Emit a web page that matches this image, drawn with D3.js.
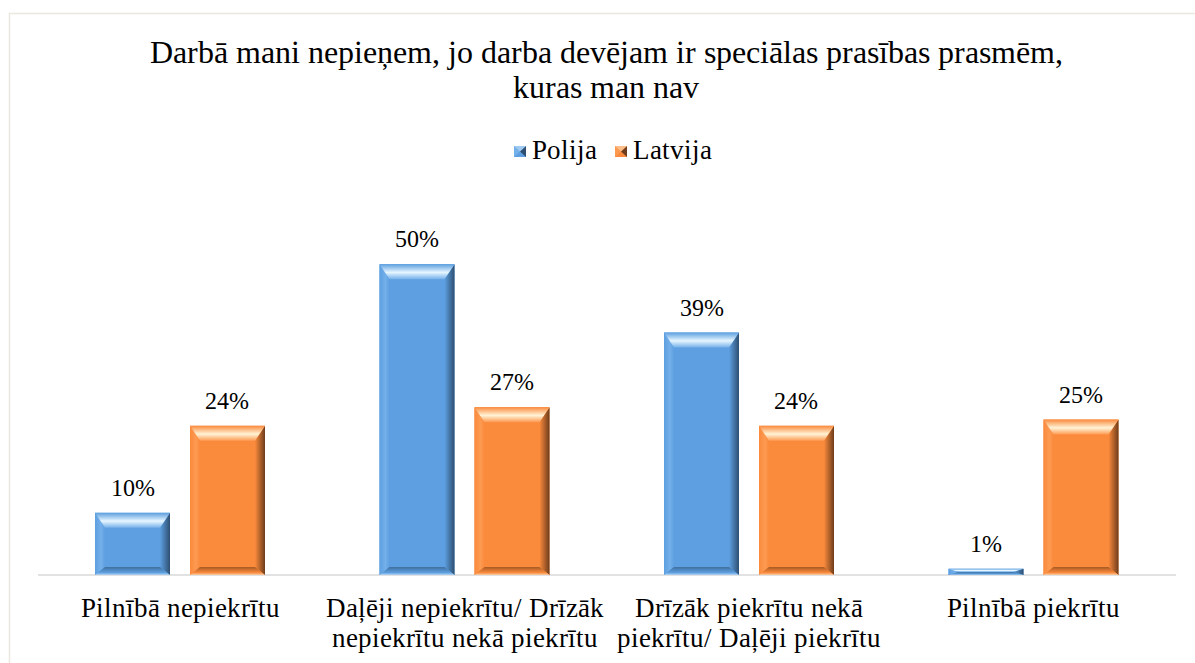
<!DOCTYPE html>
<html>
<head>
<meta charset="utf-8">
<script src="https://cdn.jsdelivr.net/npm/d3@7"></script>
<style>
  @font-face { font-family: "ChartSerif"; src: local("Liberation Serif"), local("LiberationSerif"), local("Tinos"); }
  body { margin: 0; background: #fff; }
  svg { display: block; }
</style>
</head>
<body>
<div id="chart"></div>
<script>
// data
var categories = ["Pilnībā nepiekrītu", "Daļēji nepiekrītu/ Drīzāk nepiekrītu nekā piekrītu", "Drīzāk piekrītu nekā piekrītu/ Daļēji piekrītu", "Pilnībā piekrītu"];
var categoryLines = [["Pilnībā nepiekrītu"], ["Daļēji nepiekrītu/ Drīzāk", "nepiekrītu nekā piekrītu"], ["Drīzāk piekrītu nekā", "piekrītu/ Daļēji piekrītu"], ["Pilnībā piekrītu"]];
var seriesNames = ["Polija", "Latvija"];
var polija = [10, 50, 39, 1];
var latvija = [24, 27, 24, 25];
var titleLines = ["Darbā mani nepieņem, jo darba devējam ir speciālas prasības prasmēm,", "kuras man nav"];

var width = 1195, height = 663;
var serif = "ChartSerif, 'Liberation Serif', Tinos, serif";

var colors = {
  Polija: { base: "#5d9fe0", light: "#e6f6ff", dark: "#2e4f72", side: "#74b0ea", bottom: "#3f6f9e", edge: "#b5d6f3" },
  Latvija: { base: "#fa8a3c", light: "#fff3d6", dark: "#6e3d1b", side: "#fd9a52", bottom: "#a85a24", edge: "#f8cfa8" }
};

var svg = d3.select("#chart")
  .append("svg")
  .attr("width", width)
  .attr("height", height);

var defs = svg.append("defs");

// bevel gradients
seriesNames.forEach(function(s) {
  var c = colors[s];
  var tg = defs.append("linearGradient").attr("id", "top_" + s).attr("x1", 0).attr("y1", 0).attr("x2", 0).attr("y2", 1);
  tg.append("stop").attr("offset", "0%").attr("stop-color", c.base);
  tg.append("stop").attr("offset", "55%").attr("stop-color", c.light);
  tg.append("stop").attr("offset", "100%").attr("stop-color", c.side);

  var rg = defs.append("linearGradient").attr("id", "right_" + s).attr("x1", 0).attr("y1", 0).attr("x2", 1).attr("y2", 0);
  rg.append("stop").attr("offset", "0%").attr("stop-color", c.base);
  rg.append("stop").attr("offset", "100%").attr("stop-color", c.dark);

  var lg = defs.append("linearGradient").attr("id", "left_" + s).attr("x1", 0).attr("y1", 0).attr("x2", 1).attr("y2", 0);
  lg.append("stop").attr("offset", "0%").attr("stop-color", c.base);
  lg.append("stop").attr("offset", "60%").attr("stop-color", c.side);
  lg.append("stop").attr("offset", "100%").attr("stop-color", c.base);

  var bg = defs.append("linearGradient").attr("id", "bottom_" + s).attr("x1", 0).attr("y1", 0).attr("x2", 0).attr("y2", 1);
  bg.append("stop").attr("offset", "0%").attr("stop-color", c.bottom);
  bg.append("stop").attr("offset", "70%").attr("stop-color", c.base);
  bg.append("stop").attr("offset", "100%").attr("stop-color", c.edge);
});

// chart border
svg.append("rect")
  .attr("x", 9.5)
  .attr("y", 13.5)
  .attr("width", 1200)
  .attr("height", 700)
  .attr("fill", "none")
  .attr("stroke", "#ebe8e0")
  .attr("stroke-width", 1.5);

var x = d3.scaleBand()
  .domain(categories)
  .range([38, 1176]);

var xs = d3.scaleBand()
  .domain(seriesNames)
  .range([57, 227])
  .paddingInner(0.2105);

var y = d3.scaleLinear()
  .domain([0, 60])
  .range([575, 202]);

// title
svg.append("text")
  .attr("x", 606)
  .attr("y", 63)
  .attr("text-anchor", "middle")
  .attr("font-size", "32px")
  .attr("fill", "#000")
  .style("font-family", serif)
  .selectAll("tspan")
  .data(titleLines)
  .enter()
  .append("tspan")
  .attr("x", 606)
  .attr("dy", function(d, i) { return i === 0 ? 0 : 35; })
  .text(function(d) { return d; });

// legend
var legend = svg.append("g").attr("class", "legend");
var legendX = [514, 615];
seriesNames.forEach(function(s, i) {
  var c = colors[s];
  var lg = legend.append("g").attr("transform", "translate(" + legendX[i] + ",146)");
  lg.append("rect").attr("width", 12).attr("height", 11).attr("fill", c.base);
  lg.append("path").attr("d", "M0,0 L6,5.5 L0,11 Z").attr("fill", c.side);
  lg.append("path").attr("d", "M12,0 L6,5.5 L12,11 Z").attr("fill", c.dark);
  lg.append("path").attr("d", "M0,0 L12,0 L6,5.5 Z").attr("fill", c.light).attr("opacity", 0.5);
  lg.append("text")
    .attr("x", 18)
    .attr("y", 13)
    .attr("font-size", "26.5px")
    .attr("fill", "#000")
    .style("font-family", serif)
    .text(s);
});

// axis line
svg.append("line")
  .attr("x1", x.range()[0])
  .attr("x2", x.range()[1])
  .attr("y1", y(0))
  .attr("y2", y(0))
  .attr("stroke", "#d9d9d9")
  .attr("stroke-width", 1.5);

// bars
var rows = [];
categories.forEach(function(cat, i) {
  rows.push({ cat: cat, series: "Polija", value: polija[i] });
  rows.push({ cat: cat, series: "Latvija", value: latvija[i] });
});

var bar = svg.selectAll("g.bar")
  .data(rows)
  .enter()
  .append("g")
  .attr("class", "bar");

bar.each(function(d) {
  var g = d3.select(this);
  var x0 = x(d.cat) + xs(d.series);
  var w = xs.bandwidth();
  var y0 = y(d.value);
  var y1 = y(0);
  var h = y1 - y0;
  var bt = Math.min(15, h / 2), bb = Math.min(8, h / 2), bs = Math.min(10, w / 2);

  g.append("rect")
    .attr("x", x0).attr("y", y0).attr("width", w).attr("height", h)
    .attr("fill", colors[d.series].base);
  // left side
  g.append("path")
    .attr("d", "M" + x0 + "," + y0 + " L" + (x0 + bs) + "," + (y0 + bt) + " L" + (x0 + bs) + "," + (y1 - bb) + " L" + x0 + "," + y1 + " Z")
    .attr("fill", "url(#left_" + d.series + ")");
  // right side
  g.append("path")
    .attr("d", "M" + (x0 + w) + "," + y0 + " L" + (x0 + w - bs) + "," + (y0 + bt) + " L" + (x0 + w - bs) + "," + (y1 - bb) + " L" + (x0 + w) + "," + y1 + " Z")
    .attr("fill", "url(#right_" + d.series + ")");
  // top
  g.append("path")
    .attr("d", "M" + x0 + "," + y0 + " L" + (x0 + w) + "," + y0 + " L" + (x0 + w - bs) + "," + (y0 + bt) + " L" + (x0 + bs) + "," + (y0 + bt) + " Z")
    .attr("fill", "url(#top_" + d.series + ")");
  // bottom
  g.append("path")
    .attr("d", "M" + (x0 + bs) + "," + (y1 - bb) + " L" + (x0 + w - bs) + "," + (y1 - bb) + " L" + (x0 + w) + "," + y1 + " L" + x0 + "," + y1 + " Z")
    .attr("fill", "url(#bottom_" + d.series + ")");
});

// value labels
svg.selectAll("text.value")
  .data(rows)
  .enter()
  .append("text")
  .attr("class", "value")
  .attr("x", function(d) { return x(d.cat) + xs(d.series) + xs.bandwidth() / 2; })
  .attr("y", function(d) { return y(d.value) - 17; })
  .attr("text-anchor", "middle")
  .attr("font-size", "24px")
  .attr("fill", "#000")
  .style("font-family", serif)
  .text(function(d) { return d.value + "%"; });

// category labels
svg.selectAll("text.cat")
  .data(categories)
  .enter()
  .append("text")
  .attr("class", "cat")
  .attr("text-anchor", "middle")
  .attr("font-size", "26.5px")
  .attr("fill", "#000")
  .style("font-family", serif)
  .attr("y", 617)
  .each(function(d, i) {
    var t = d3.select(this);
    categoryLines[i].forEach(function(line, j) {
      t.append("tspan")
        .attr("x", x(d) + x.bandwidth() / 2)
        .attr("dy", j === 0 ? 0 : 30)
        .text(line);
    });
  });
</script>
</body>
</html>
